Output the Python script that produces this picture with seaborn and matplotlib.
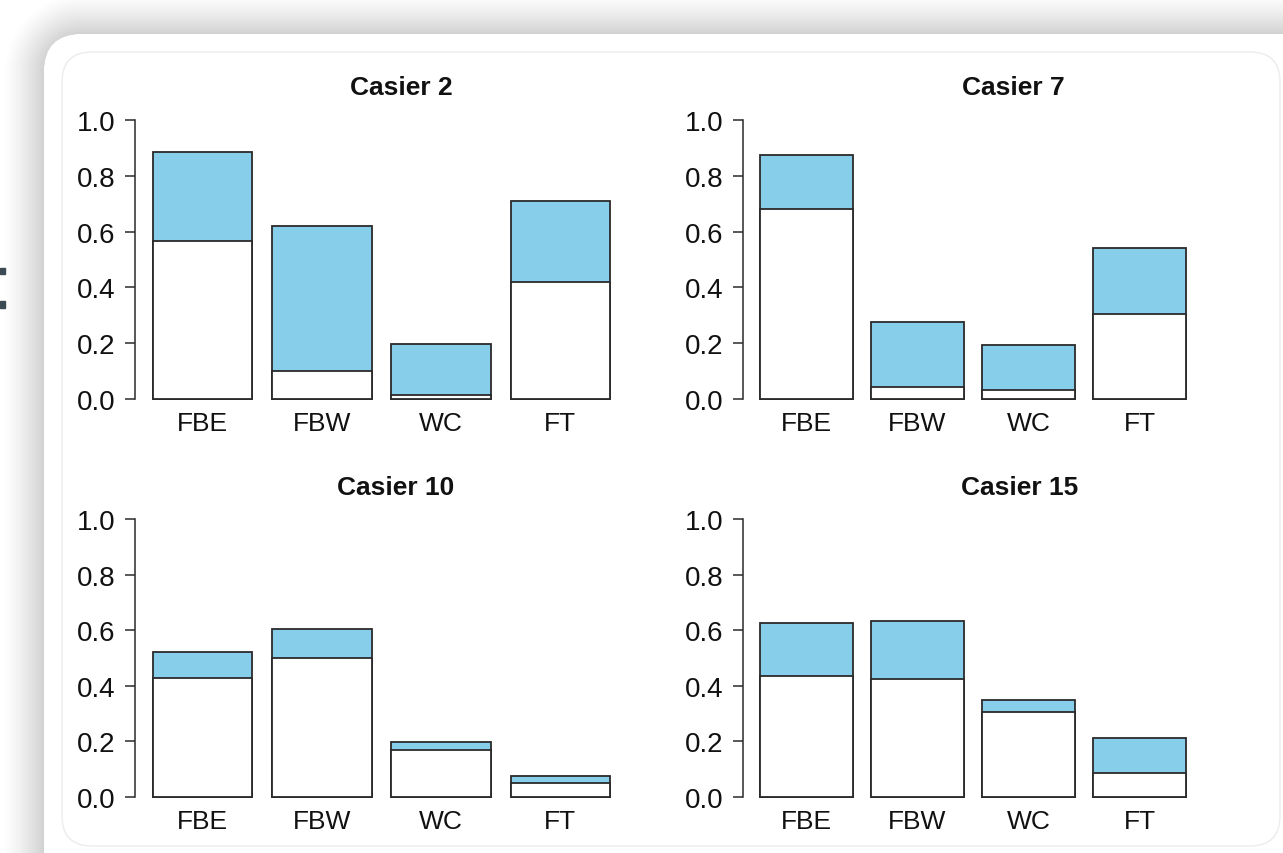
import numpy as np
import pandas as pd
import seaborn as sns
import matplotlib.pyplot as plt
from matplotlib.patches import FancyBboxPatch, Rectangle

# categories and panel names
sites = ['FBE', 'FBW', 'WC', 'FT']
casiers = ['Casier 2', 'Casier 7', 'Casier 10', 'Casier 15']

# lower (white) part of each bar
lower_2 = [0.567, 0.101, 0.013, 0.418]
lower_7 = [0.680, 0.044, 0.032, 0.305]
lower_10 = [0.429, 0.501, 0.168, 0.050]
lower_15 = [0.435, 0.424, 0.307, 0.086]

# full bar height (top of the blue part)
total_2 = [0.886, 0.619, 0.198, 0.711]
total_7 = [0.874, 0.275, 0.193, 0.541]
total_10 = [0.522, 0.604, 0.199, 0.076]
total_15 = [0.625, 0.635, 0.348, 0.213]

lowers = [lower_2, lower_7, lower_10, lower_15]
totals = [total_2, total_7, total_10, total_15]

yticks = [0.0, 0.2, 0.4, 0.6, 0.8, 1.0]

sns.set_theme(style='white')
plt.rcParams['font.family'] = ['Liberation Sans', 'DejaVu Sans']

W, H = 1283, 854
fig = plt.figure(figsize=(W / 100, H / 100), dpi=100)

# background: card with soft shadow
bg = fig.add_axes([0, 0, 1, 1], zorder=-10)
xx, yy = np.meshgrid(np.arange(W) + 0.5, np.arange(H) + 0.5)
cx0, cy0, cx1, cy1, cr = 44, 35, 1330, 900, 38
dx = np.maximum(np.maximum(cx0 + cr - xx, xx - (cx1 - cr)), 0)
dy = np.maximum(np.maximum(cy0 + cr - yy, yy - (cy1 - cr)), 0)
dist = np.hypot(dx, dy) - cr
shade = 1 - 0.18 * np.clip(1 - dist / 42, 0, 1) ** 1.3
shade[dist <= 0] = 1
bg.imshow(shade, cmap='gray', vmin=0, vmax=1, extent=[0, W, H, 0],
          aspect='auto', interpolation='bilinear')
bg.add_patch(FancyBboxPatch((cx0 + cr, cy0 + cr), cx1 - cx0 - 2 * cr, cy1 - cy0 - 2 * cr,
                            boxstyle=f'round,pad={cr}', fc='white', ec='none'))
bg.add_patch(FancyBboxPatch((62 + 30, 53 + 30), 1280 - 62 - 60, 847 - 53 - 60,
                            boxstyle='round,pad=30', fc='none', ec='#ececec', lw=1))
bg.add_patch(Rectangle((0, 269), 5, 6, color='#3c4a54'))
bg.add_patch(Rectangle((0, 302), 5, 7, color='#3c4a54'))
bg.set_xlim(0, W)
bg.set_ylim(H, 0)
bg.axis('off')

# plot regions in pixels: left, right, top, bottom
boxes = [(135, 628, 110, 411), (743, 1203, 110, 411),
         (135, 628, 509, 809), (743, 1203, 509, 809)]
title_pos = [(401, 88), (1013, 88), (396, 488), (1020, 488)]

for i in range(4):
    l, r, t, b = boxes[i]
    ax = fig.add_axes([l / W, 1 - b / H, (r - l) / W, (b - t) / H])
    ax.patch.set_alpha(0)
    df = pd.DataFrame({'site': sites, 'total': totals[i], 'lower': lowers[i]})
    sns.barplot(data=df, x='site', y='total', order=sites, color='skyblue', saturation=1,
                edgecolor='#2a2a2a', linewidth=1.3, width=1 / 1.2, errorbar=None, ax=ax)
    sns.barplot(data=df, x='site', y='lower', order=sites, color='white', saturation=1,
                edgecolor='#2a2a2a', linewidth=1.3, width=1 / 1.2, errorbar=None, ax=ax)
    ax.set_xlim(-0.57, 3.57)
    ax.set_ylim(-0.04, 1.04)
    ax.set_xlabel('')
    ax.set_ylabel('')
    for side in ['top', 'right', 'bottom']:
        ax.spines[side].set_visible(False)
    ax.spines['left'].set_bounds(0, 1)
    ax.spines['left'].set_color('#2a2a2a')
    ax.spines['left'].set_linewidth(1.1)
    ax.set_yticks(yticks)
    ax.set_yticklabels([f'{v:.1f}' for v in yticks])
    ax.tick_params(axis='y', left=True, length=7, width=1.1, color='#2a2a2a',
                   pad=7, labelsize=20, labelcolor='#111111')
    ax.tick_params(axis='x', bottom=False, length=0, pad=1, labelsize=19,
                   labelcolor='#111111')
    tx, ty = title_pos[i]
    fig.text(tx / W, 1 - ty / H, casiers[i], ha='center', va='center',
             fontsize=19, fontweight='bold', color='#111111')

fig.savefig('out.png', dpi=100)
